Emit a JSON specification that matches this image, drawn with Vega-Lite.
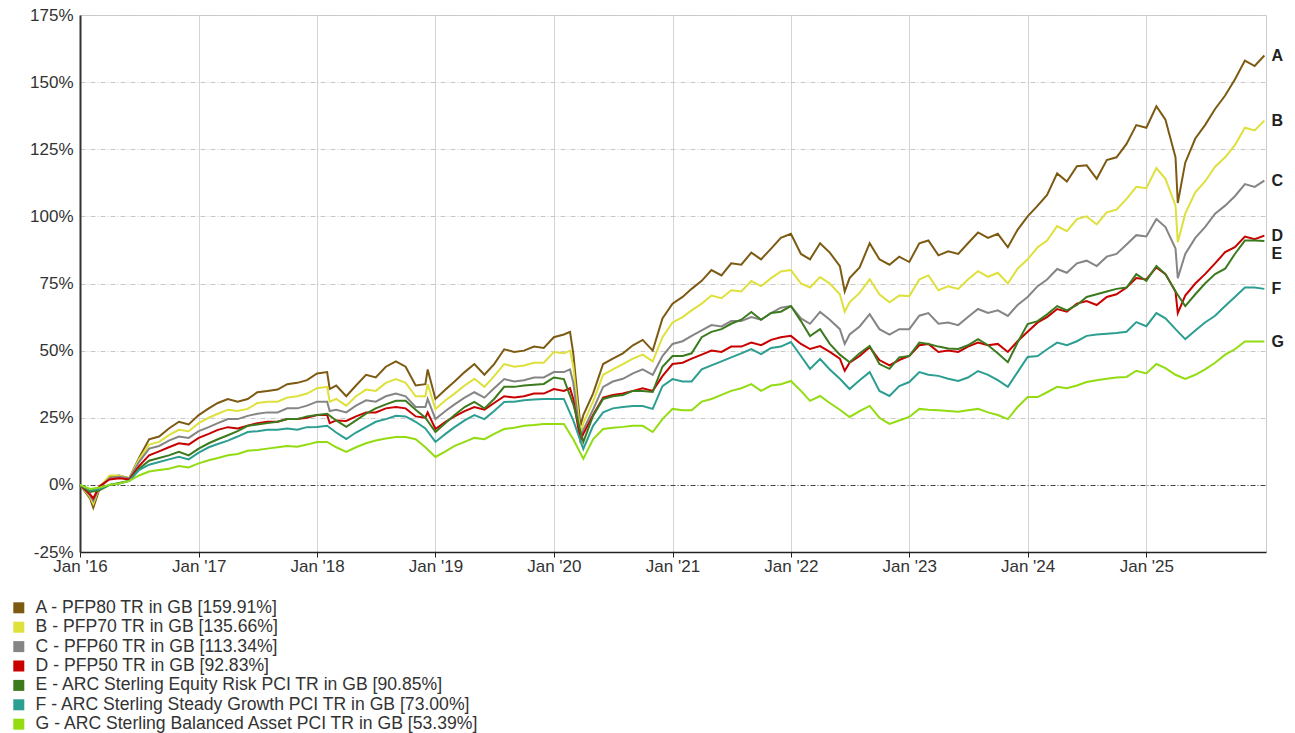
{
"$schema": "https://vega.github.io/schema/vega-lite/v6.json",
"width": 1186, "height": 537,
"autosize": "none",
"padding": {"left": 80, "top": 15, "right": 29, "bottom": 181},
"background": "white",
"config": {"view": {"stroke": "#cccccc", "strokeWidth": 1}, "font": "Liberation Sans"},
"data": {"values": [
{"d":"2016-01-01","s":"A","v":0},{"d":"2016-02-01","s":"A","v":-5},{"d":"2016-03-01","s":"A","v":-1.5},{"d":"2016-04-01","s":"A","v":3},{"d":"2016-05-01","s":"A","v":3.5},{"d":"2016-06-01","s":"A","v":2.5},{"d":"2016-07-01","s":"A","v":10},{"d":"2016-08-01","s":"A","v":17},{"d":"2016-09-01","s":"A","v":18},{"d":"2016-10-01","s":"A","v":21},{"d":"2016-11-01","s":"A","v":23.5},{"d":"2016-12-01","s":"A","v":22.5},
{"d":"2017-01-01","s":"A","v":26},{"d":"2017-02-01","s":"A","v":28.5},{"d":"2017-03-01","s":"A","v":30.5},{"d":"2017-04-01","s":"A","v":32},{"d":"2017-05-01","s":"A","v":31},{"d":"2017-06-01","s":"A","v":32},{"d":"2017-07-01","s":"A","v":34.5},{"d":"2017-08-01","s":"A","v":35},{"d":"2017-09-01","s":"A","v":35.5},{"d":"2017-10-01","s":"A","v":37.5},{"d":"2017-11-01","s":"A","v":38},{"d":"2017-12-01","s":"A","v":39},
{"d":"2018-01-01","s":"A","v":41.5},{"d":"2018-02-01","s":"A","v":42},{"d":"2018-03-01","s":"A","v":37},{"d":"2018-04-01","s":"A","v":33},{"d":"2018-05-01","s":"A","v":37},{"d":"2018-06-01","s":"A","v":41},{"d":"2018-07-01","s":"A","v":40},{"d":"2018-08-01","s":"A","v":44},{"d":"2018-09-01","s":"A","v":46},{"d":"2018-10-01","s":"A","v":44},{"d":"2018-11-01","s":"A","v":37},{"d":"2018-12-01","s":"A","v":37.5},
{"d":"2019-01-01","s":"A","v":32},{"d":"2019-02-01","s":"A","v":35.5},{"d":"2019-03-01","s":"A","v":38.5},{"d":"2019-04-01","s":"A","v":42},{"d":"2019-05-01","s":"A","v":45},{"d":"2019-06-01","s":"A","v":41},{"d":"2019-07-01","s":"A","v":45},{"d":"2019-08-01","s":"A","v":50.5},{"d":"2019-09-01","s":"A","v":49.5},{"d":"2019-10-01","s":"A","v":50},{"d":"2019-11-01","s":"A","v":51.5},{"d":"2019-12-01","s":"A","v":51},
{"d":"2020-01-01","s":"A","v":55},{"d":"2020-02-01","s":"A","v":56},{"d":"2020-03-01","s":"A","v":49},{"d":"2020-04-01","s":"A","v":26},{"d":"2020-05-01","s":"A","v":34},{"d":"2020-06-01","s":"A","v":45},{"d":"2020-07-01","s":"A","v":47},{"d":"2020-08-01","s":"A","v":49},{"d":"2020-09-01","s":"A","v":52},{"d":"2020-10-01","s":"A","v":54},{"d":"2020-11-01","s":"A","v":50},{"d":"2020-12-01","s":"A","v":62},
{"d":"2021-01-01","s":"A","v":67.5},{"d":"2021-02-01","s":"A","v":70},{"d":"2021-03-01","s":"A","v":73},{"d":"2021-04-01","s":"A","v":76},{"d":"2021-05-01","s":"A","v":80},{"d":"2021-06-01","s":"A","v":78},{"d":"2021-07-01","s":"A","v":82.5},{"d":"2021-08-01","s":"A","v":82},{"d":"2021-09-01","s":"A","v":86.5},{"d":"2021-10-01","s":"A","v":84},{"d":"2021-11-01","s":"A","v":88},{"d":"2021-12-01","s":"A","v":92},
{"d":"2022-01-01","s":"A","v":93.5},{"d":"2022-02-01","s":"A","v":86},{"d":"2022-03-01","s":"A","v":84},{"d":"2022-04-01","s":"A","v":90},{"d":"2022-05-01","s":"A","v":86.5},{"d":"2022-06-01","s":"A","v":81.5},{"d":"2022-07-01","s":"A","v":77},{"d":"2022-08-01","s":"A","v":81},{"d":"2022-09-01","s":"A","v":90},{"d":"2022-10-01","s":"A","v":84},{"d":"2022-11-01","s":"A","v":82},{"d":"2022-12-01","s":"A","v":85},
{"d":"2023-01-01","s":"A","v":83},{"d":"2023-02-01","s":"A","v":90},{"d":"2023-03-01","s":"A","v":91},{"d":"2023-04-01","s":"A","v":85.5},{"d":"2023-05-01","s":"A","v":87},{"d":"2023-06-01","s":"A","v":86},{"d":"2023-07-01","s":"A","v":90},{"d":"2023-08-01","s":"A","v":94},{"d":"2023-09-01","s":"A","v":92},{"d":"2023-10-01","s":"A","v":93.5},{"d":"2023-11-01","s":"A","v":88.5},{"d":"2023-12-01","s":"A","v":95},
{"d":"2024-01-01","s":"A","v":100},{"d":"2024-02-01","s":"A","v":104},{"d":"2024-03-01","s":"A","v":108},{"d":"2024-04-01","s":"A","v":116},{"d":"2024-05-01","s":"A","v":113},{"d":"2024-06-01","s":"A","v":118.7},{"d":"2024-07-01","s":"A","v":119},{"d":"2024-08-01","s":"A","v":114},{"d":"2024-09-01","s":"A","v":121},{"d":"2024-10-01","s":"A","v":122},{"d":"2024-11-01","s":"A","v":127},{"d":"2024-12-01","s":"A","v":134},
{"d":"2025-01-01","s":"A","v":133},{"d":"2025-02-01","s":"A","v":141},{"d":"2025-03-01","s":"A","v":136},{"d":"2025-04-01","s":"A","v":122},{"d":"2025-05-01","s":"A","v":120},{"d":"2025-06-01","s":"A","v":129},{"d":"2025-07-01","s":"A","v":134},{"d":"2025-08-01","s":"A","v":140},{"d":"2025-09-01","s":"A","v":145},{"d":"2025-10-01","s":"A","v":151},{"d":"2025-11-01","s":"A","v":158},{"d":"2025-12-01","s":"A","v":156},{"d":"2025-12-31","s":"A","v":159.91},
{"d":"2016-02-11","s":"A","v":-8.5},{"d":"2018-02-09","s":"A","v":35.7},{"d":"2018-12-08","s":"A","v":43},{"d":"2020-02-20","s":"A","v":57},{"d":"2020-03-23","s":"A","v":22},{"d":"2022-06-16","s":"A","v":72},{"d":"2025-04-08","s":"A","v":105},

{"d":"2016-01-01","s":"B","v":0},{"d":"2016-02-01","s":"B","v":-4.5},{"d":"2016-03-01","s":"B","v":-1},{"d":"2016-04-01","s":"B","v":3.5},{"d":"2016-05-01","s":"B","v":3.5},{"d":"2016-06-01","s":"B","v":2.5},{"d":"2016-07-01","s":"B","v":9.5},{"d":"2016-08-01","s":"B","v":15},{"d":"2016-09-01","s":"B","v":16},{"d":"2016-10-01","s":"B","v":18.5},{"d":"2016-11-01","s":"B","v":20.5},{"d":"2016-12-01","s":"B","v":20},
{"d":"2017-01-01","s":"B","v":23},{"d":"2017-02-01","s":"B","v":25},{"d":"2017-03-01","s":"B","v":26.5},{"d":"2017-04-01","s":"B","v":28},{"d":"2017-05-01","s":"B","v":27.5},{"d":"2017-06-01","s":"B","v":28.3},{"d":"2017-07-01","s":"B","v":30.5},{"d":"2017-08-01","s":"B","v":31},{"d":"2017-09-01","s":"B","v":31},{"d":"2017-10-01","s":"B","v":32.5},{"d":"2017-11-01","s":"B","v":33},{"d":"2017-12-01","s":"B","v":34},
{"d":"2018-01-01","s":"B","v":36},{"d":"2018-02-01","s":"B","v":36.5},{"d":"2018-03-01","s":"B","v":32},{"d":"2018-04-01","s":"B","v":29.5},{"d":"2018-05-01","s":"B","v":33},{"d":"2018-06-01","s":"B","v":35.5},{"d":"2018-07-01","s":"B","v":35},{"d":"2018-08-01","s":"B","v":38},{"d":"2018-09-01","s":"B","v":39.4},{"d":"2018-10-01","s":"B","v":38},{"d":"2018-11-01","s":"B","v":33},{"d":"2018-12-01","s":"B","v":33},
{"d":"2019-01-01","s":"B","v":28.3},{"d":"2019-02-01","s":"B","v":31.5},{"d":"2019-03-01","s":"B","v":34},{"d":"2019-04-01","s":"B","v":37},{"d":"2019-05-01","s":"B","v":39.5},{"d":"2019-06-01","s":"B","v":36.5},{"d":"2019-07-01","s":"B","v":40.5},{"d":"2019-08-01","s":"B","v":45},{"d":"2019-09-01","s":"B","v":44},{"d":"2019-10-01","s":"B","v":44.5},{"d":"2019-11-01","s":"B","v":45.5},{"d":"2019-12-01","s":"B","v":45.5},
{"d":"2020-01-01","s":"B","v":49.5},{"d":"2020-02-01","s":"B","v":49},{"d":"2020-03-01","s":"B","v":44},{"d":"2020-04-01","s":"B","v":23},{"d":"2020-05-01","s":"B","v":31},{"d":"2020-06-01","s":"B","v":41},{"d":"2020-07-01","s":"B","v":43},{"d":"2020-08-01","s":"B","v":45},{"d":"2020-09-01","s":"B","v":47},{"d":"2020-10-01","s":"B","v":48.5},{"d":"2020-11-01","s":"B","v":46},{"d":"2020-12-01","s":"B","v":55},
{"d":"2021-01-01","s":"B","v":60.5},{"d":"2021-02-01","s":"B","v":62.5},{"d":"2021-03-01","s":"B","v":65},{"d":"2021-04-01","s":"B","v":67.5},{"d":"2021-05-01","s":"B","v":70.5},{"d":"2021-06-01","s":"B","v":69.5},{"d":"2021-07-01","s":"B","v":72.5},{"d":"2021-08-01","s":"B","v":72},{"d":"2021-09-01","s":"B","v":75.9},{"d":"2021-10-01","s":"B","v":74},{"d":"2021-11-01","s":"B","v":77},{"d":"2021-12-01","s":"B","v":79.5},
{"d":"2022-01-01","s":"B","v":80},{"d":"2022-02-01","s":"B","v":75},{"d":"2022-03-01","s":"B","v":73.5},{"d":"2022-04-01","s":"B","v":77.4},{"d":"2022-05-01","s":"B","v":75},{"d":"2022-06-01","s":"B","v":71},{"d":"2022-07-01","s":"B","v":68},{"d":"2022-08-01","s":"B","v":71.5},{"d":"2022-09-01","s":"B","v":76.6},{"d":"2022-10-01","s":"B","v":71},{"d":"2022-11-01","s":"B","v":68},{"d":"2022-12-01","s":"B","v":70.5},
{"d":"2023-01-01","s":"B","v":70.3},{"d":"2023-02-01","s":"B","v":76.5},{"d":"2023-03-01","s":"B","v":78},{"d":"2023-04-01","s":"B","v":72.5},{"d":"2023-05-01","s":"B","v":74},{"d":"2023-06-01","s":"B","v":73},{"d":"2023-07-01","s":"B","v":76.5},{"d":"2023-08-01","s":"B","v":79.6},{"d":"2023-09-01","s":"B","v":77.5},{"d":"2023-10-01","s":"B","v":79},{"d":"2023-11-01","s":"B","v":75},{"d":"2023-12-01","s":"B","v":80.5},
{"d":"2024-01-01","s":"B","v":84},{"d":"2024-02-01","s":"B","v":88.5},{"d":"2024-03-01","s":"B","v":91},{"d":"2024-04-01","s":"B","v":96.4},{"d":"2024-05-01","s":"B","v":94.5},{"d":"2024-06-01","s":"B","v":99},{"d":"2024-07-01","s":"B","v":100},{"d":"2024-08-01","s":"B","v":97},{"d":"2024-09-01","s":"B","v":101.5},{"d":"2024-10-01","s":"B","v":102.5},{"d":"2024-11-01","s":"B","v":106.5},{"d":"2024-12-01","s":"B","v":111},
{"d":"2025-01-01","s":"B","v":110.5},{"d":"2025-02-01","s":"B","v":118},{"d":"2025-03-01","s":"B","v":114},{"d":"2025-04-01","s":"B","v":104},{"d":"2025-05-01","s":"B","v":101},{"d":"2025-06-01","s":"B","v":109},{"d":"2025-07-01","s":"B","v":113},{"d":"2025-08-01","s":"B","v":118.5},{"d":"2025-09-01","s":"B","v":122},{"d":"2025-10-01","s":"B","v":126.5},{"d":"2025-11-01","s":"B","v":133},{"d":"2025-12-01","s":"B","v":132},{"d":"2025-12-31","s":"B","v":135.66},
{"d":"2016-02-11","s":"B","v":-7},{"d":"2018-02-09","s":"B","v":31},{"d":"2018-12-08","s":"B","v":37.5},{"d":"2020-02-20","s":"B","v":50},{"d":"2020-03-23","s":"B","v":19},{"d":"2022-06-16","s":"B","v":64.5},{"d":"2025-04-08","s":"B","v":90.4},

{"d":"2016-01-01","s":"C","v":0},{"d":"2016-02-01","s":"C","v":-4},{"d":"2016-03-01","s":"C","v":-1},{"d":"2016-04-01","s":"C","v":2.5},{"d":"2016-05-01","s":"C","v":3},{"d":"2016-06-01","s":"C","v":2.5},{"d":"2016-07-01","s":"C","v":8.5},{"d":"2016-08-01","s":"C","v":13.5},{"d":"2016-09-01","s":"C","v":14.5},{"d":"2016-10-01","s":"C","v":16.5},{"d":"2016-11-01","s":"C","v":18},{"d":"2016-12-01","s":"C","v":17.5},
{"d":"2017-01-01","s":"C","v":20},{"d":"2017-02-01","s":"C","v":21.5},{"d":"2017-03-01","s":"C","v":23},{"d":"2017-04-01","s":"C","v":24.5},{"d":"2017-05-01","s":"C","v":24.5},{"d":"2017-06-01","s":"C","v":25.7},{"d":"2017-07-01","s":"C","v":26.5},{"d":"2017-08-01","s":"C","v":27},{"d":"2017-09-01","s":"C","v":27},{"d":"2017-10-01","s":"C","v":28.5},{"d":"2017-11-01","s":"C","v":28.5},{"d":"2017-12-01","s":"C","v":29.5},
{"d":"2018-01-01","s":"C","v":31},{"d":"2018-02-01","s":"C","v":31},{"d":"2018-03-01","s":"C","v":28},{"d":"2018-04-01","s":"C","v":27},{"d":"2018-05-01","s":"C","v":29.5},{"d":"2018-06-01","s":"C","v":31.5},{"d":"2018-07-01","s":"C","v":31},{"d":"2018-08-01","s":"C","v":33},{"d":"2018-09-01","s":"C","v":34},{"d":"2018-10-01","s":"C","v":33},{"d":"2018-11-01","s":"C","v":29},{"d":"2018-12-01","s":"C","v":29},
{"d":"2019-01-01","s":"C","v":24.5},{"d":"2019-02-01","s":"C","v":27.5},{"d":"2019-03-01","s":"C","v":30},{"d":"2019-04-01","s":"C","v":32.5},{"d":"2019-05-01","s":"C","v":34.5},{"d":"2019-06-01","s":"C","v":32.5},{"d":"2019-07-01","s":"C","v":36},{"d":"2019-08-01","s":"C","v":39.4},{"d":"2019-09-01","s":"C","v":38.5},{"d":"2019-10-01","s":"C","v":39},{"d":"2019-11-01","s":"C","v":40},{"d":"2019-12-01","s":"C","v":40},
{"d":"2020-01-01","s":"C","v":42},{"d":"2020-02-01","s":"C","v":42},{"d":"2020-03-01","s":"C","v":38},{"d":"2020-04-01","s":"C","v":20.5},{"d":"2020-05-01","s":"C","v":28},{"d":"2020-06-01","s":"C","v":36.5},{"d":"2020-07-01","s":"C","v":38.5},{"d":"2020-08-01","s":"C","v":39.5},{"d":"2020-09-01","s":"C","v":41.5},{"d":"2020-10-01","s":"C","v":43},{"d":"2020-11-01","s":"C","v":41},{"d":"2020-12-01","s":"C","v":48},
{"d":"2021-01-01","s":"C","v":52.5},{"d":"2021-02-01","s":"C","v":53.5},{"d":"2021-03-01","s":"C","v":55.5},{"d":"2021-04-01","s":"C","v":57.5},{"d":"2021-05-01","s":"C","v":59.5},{"d":"2021-06-01","s":"C","v":59},{"d":"2021-07-01","s":"C","v":61},{"d":"2021-08-01","s":"C","v":61},{"d":"2021-09-01","s":"C","v":62.5},{"d":"2021-10-01","s":"C","v":61.5},{"d":"2021-11-01","s":"C","v":64},{"d":"2021-12-01","s":"C","v":66},
{"d":"2022-01-01","s":"C","v":66.6},{"d":"2022-02-01","s":"C","v":62},{"d":"2022-03-01","s":"C","v":60},{"d":"2022-04-01","s":"C","v":64.4},{"d":"2022-05-01","s":"C","v":61.5},{"d":"2022-06-01","s":"C","v":58},{"d":"2022-07-01","s":"C","v":56},{"d":"2022-08-01","s":"C","v":59},{"d":"2022-09-01","s":"C","v":63.6},{"d":"2022-10-01","s":"C","v":58},{"d":"2022-11-01","s":"C","v":56},{"d":"2022-12-01","s":"C","v":58},
{"d":"2023-01-01","s":"C","v":58},{"d":"2023-02-01","s":"C","v":63},{"d":"2023-03-01","s":"C","v":64},{"d":"2023-04-01","s":"C","v":60},{"d":"2023-05-01","s":"C","v":60.5},{"d":"2023-06-01","s":"C","v":59.5},{"d":"2023-07-01","s":"C","v":62.5},{"d":"2023-08-01","s":"C","v":65.5},{"d":"2023-09-01","s":"C","v":64},{"d":"2023-10-01","s":"C","v":65},{"d":"2023-11-01","s":"C","v":62.9},{"d":"2023-12-01","s":"C","v":67},
{"d":"2024-01-01","s":"C","v":70},{"d":"2024-02-01","s":"C","v":74},{"d":"2024-03-01","s":"C","v":76.5},{"d":"2024-04-01","s":"C","v":80.4},{"d":"2024-05-01","s":"C","v":79},{"d":"2024-06-01","s":"C","v":82.5},{"d":"2024-07-01","s":"C","v":83.5},{"d":"2024-08-01","s":"C","v":81.5},{"d":"2024-09-01","s":"C","v":85},{"d":"2024-10-01","s":"C","v":86},{"d":"2024-11-01","s":"C","v":89.5},{"d":"2024-12-01","s":"C","v":93},
{"d":"2025-01-01","s":"C","v":92.5},{"d":"2025-02-01","s":"C","v":99},{"d":"2025-03-01","s":"C","v":96},{"d":"2025-04-01","s":"C","v":88},{"d":"2025-05-01","s":"C","v":86},{"d":"2025-06-01","s":"C","v":92},{"d":"2025-07-01","s":"C","v":96},{"d":"2025-08-01","s":"C","v":101},{"d":"2025-09-01","s":"C","v":104},{"d":"2025-10-01","s":"C","v":107.5},{"d":"2025-11-01","s":"C","v":112},{"d":"2025-12-01","s":"C","v":111},{"d":"2025-12-31","s":"C","v":113.34},
{"d":"2016-02-11","s":"C","v":-6},{"d":"2018-02-09","s":"C","v":27.5},{"d":"2018-12-08","s":"C","v":32},{"d":"2020-02-20","s":"C","v":43},{"d":"2020-03-23","s":"C","v":17.5},{"d":"2022-06-16","s":"C","v":52.5},{"d":"2025-04-08","s":"C","v":77},

{"d":"2016-01-01","s":"D","v":0},{"d":"2016-02-01","s":"D","v":-3.5},{"d":"2016-03-01","s":"D","v":-0.5},{"d":"2016-04-01","s":"D","v":2},{"d":"2016-05-01","s":"D","v":2.5},{"d":"2016-06-01","s":"D","v":2},{"d":"2016-07-01","s":"D","v":7},{"d":"2016-08-01","s":"D","v":11},{"d":"2016-09-01","s":"D","v":12.5},{"d":"2016-10-01","s":"D","v":14},{"d":"2016-11-01","s":"D","v":15.5},{"d":"2016-12-01","s":"D","v":15},
{"d":"2017-01-01","s":"D","v":17.5},{"d":"2017-02-01","s":"D","v":19},{"d":"2017-03-01","s":"D","v":20.5},{"d":"2017-04-01","s":"D","v":21.5},{"d":"2017-05-01","s":"D","v":21},{"d":"2017-06-01","s":"D","v":22},{"d":"2017-07-01","s":"D","v":23},{"d":"2017-08-01","s":"D","v":23.5},{"d":"2017-09-01","s":"D","v":23.5},{"d":"2017-10-01","s":"D","v":24.5},{"d":"2017-11-01","s":"D","v":24.5},{"d":"2017-12-01","s":"D","v":25},
{"d":"2018-01-01","s":"D","v":26},{"d":"2018-02-01","s":"D","v":26},{"d":"2018-03-01","s":"D","v":24},{"d":"2018-04-01","s":"D","v":23.8},{"d":"2018-05-01","s":"D","v":25.5},{"d":"2018-06-01","s":"D","v":27},{"d":"2018-07-01","s":"D","v":27},{"d":"2018-08-01","s":"D","v":28.5},{"d":"2018-09-01","s":"D","v":29},{"d":"2018-10-01","s":"D","v":28.5},{"d":"2018-11-01","s":"D","v":25.5},{"d":"2018-12-01","s":"D","v":25},
{"d":"2019-01-01","s":"D","v":20.8},{"d":"2019-02-01","s":"D","v":23.5},{"d":"2019-03-01","s":"D","v":25.5},{"d":"2019-04-01","s":"D","v":27.5},{"d":"2019-05-01","s":"D","v":29},{"d":"2019-06-01","s":"D","v":28},{"d":"2019-07-01","s":"D","v":30.5},{"d":"2019-08-01","s":"D","v":33},{"d":"2019-09-01","s":"D","v":32.5},{"d":"2019-10-01","s":"D","v":33},{"d":"2019-11-01","s":"D","v":34},{"d":"2019-12-01","s":"D","v":34},
{"d":"2020-01-01","s":"D","v":35.7},{"d":"2020-02-01","s":"D","v":35},{"d":"2020-03-01","s":"D","v":32},{"d":"2020-04-01","s":"D","v":19},{"d":"2020-05-01","s":"D","v":26},{"d":"2020-06-01","s":"D","v":32.5},{"d":"2020-07-01","s":"D","v":33.5},{"d":"2020-08-01","s":"D","v":34},{"d":"2020-09-01","s":"D","v":35},{"d":"2020-10-01","s":"D","v":36},{"d":"2020-11-01","s":"D","v":35},{"d":"2020-12-01","s":"D","v":40.5},
{"d":"2021-01-01","s":"D","v":45},{"d":"2021-02-01","s":"D","v":45.5},{"d":"2021-03-01","s":"D","v":47},{"d":"2021-04-01","s":"D","v":48.5},{"d":"2021-05-01","s":"D","v":50},{"d":"2021-06-01","s":"D","v":49.5},{"d":"2021-07-01","s":"D","v":51.5},{"d":"2021-08-01","s":"D","v":51.5},{"d":"2021-09-01","s":"D","v":53},{"d":"2021-10-01","s":"D","v":52},{"d":"2021-11-01","s":"D","v":54},{"d":"2021-12-01","s":"D","v":55},
{"d":"2022-01-01","s":"D","v":55.5},{"d":"2022-02-01","s":"D","v":52.5},{"d":"2022-03-01","s":"D","v":50.6},{"d":"2022-04-01","s":"D","v":51.7},{"d":"2022-05-01","s":"D","v":49.5},{"d":"2022-06-01","s":"D","v":47},{"d":"2022-07-01","s":"D","v":45.5},{"d":"2022-08-01","s":"D","v":48},{"d":"2022-09-01","s":"D","v":51.3},{"d":"2022-10-01","s":"D","v":46.5},{"d":"2022-11-01","s":"D","v":44.5},{"d":"2022-12-01","s":"D","v":46.5},
{"d":"2023-01-01","s":"D","v":48},{"d":"2023-02-01","s":"D","v":52},{"d":"2023-03-01","s":"D","v":52.5},{"d":"2023-04-01","s":"D","v":49.5},{"d":"2023-05-01","s":"D","v":50},{"d":"2023-06-01","s":"D","v":49.5},{"d":"2023-07-01","s":"D","v":51.5},{"d":"2023-08-01","s":"D","v":53},{"d":"2023-09-01","s":"D","v":52},{"d":"2023-10-01","s":"D","v":52.5},{"d":"2023-11-01","s":"D","v":49.5},{"d":"2023-12-01","s":"D","v":53.5},
{"d":"2024-01-01","s":"D","v":57},{"d":"2024-02-01","s":"D","v":60.5},{"d":"2024-03-01","s":"D","v":62.5},{"d":"2024-04-01","s":"D","v":65.5},{"d":"2024-05-01","s":"D","v":64.5},{"d":"2024-06-01","s":"D","v":67.5},{"d":"2024-07-01","s":"D","v":68.5},{"d":"2024-08-01","s":"D","v":67},{"d":"2024-09-01","s":"D","v":70},{"d":"2024-10-01","s":"D","v":71},{"d":"2024-11-01","s":"D","v":73.5},{"d":"2024-12-01","s":"D","v":77},
{"d":"2025-01-01","s":"D","v":76.5},{"d":"2025-02-01","s":"D","v":81},{"d":"2025-03-01","s":"D","v":78.5},{"d":"2025-04-01","s":"D","v":72},{"d":"2025-05-01","s":"D","v":70.5},{"d":"2025-06-01","s":"D","v":75},{"d":"2025-07-01","s":"D","v":78.5},{"d":"2025-08-01","s":"D","v":82.5},{"d":"2025-09-01","s":"D","v":86.7},{"d":"2025-10-01","s":"D","v":88.5},{"d":"2025-11-01","s":"D","v":92.5},{"d":"2025-12-01","s":"D","v":91.5},{"d":"2025-12-31","s":"D","v":92.83},
{"d":"2016-02-11","s":"D","v":-5},{"d":"2018-02-09","s":"D","v":23},{"d":"2018-12-08","s":"D","v":27},{"d":"2020-02-20","s":"D","v":36},{"d":"2020-03-23","s":"D","v":16.5},{"d":"2022-06-16","s":"D","v":42.5},{"d":"2025-04-08","s":"D","v":64},

{"d":"2016-01-01","s":"E","v":0},{"d":"2016-02-01","s":"E","v":-2.6},{"d":"2016-03-01","s":"E","v":-2},{"d":"2016-04-01","s":"E","v":0},{"d":"2016-05-01","s":"E","v":0.7},{"d":"2016-06-01","s":"E","v":1.5},{"d":"2016-07-01","s":"E","v":6},{"d":"2016-08-01","s":"E","v":9},{"d":"2016-09-01","s":"E","v":10},{"d":"2016-10-01","s":"E","v":11},{"d":"2016-11-01","s":"E","v":12.3},{"d":"2016-12-01","s":"E","v":11},
{"d":"2017-01-01","s":"E","v":13.5},{"d":"2017-02-01","s":"E","v":15.5},{"d":"2017-03-01","s":"E","v":17},{"d":"2017-04-01","s":"E","v":18.5},{"d":"2017-05-01","s":"E","v":20},{"d":"2017-06-01","s":"E","v":22},{"d":"2017-07-01","s":"E","v":22.5},{"d":"2017-08-01","s":"E","v":23},{"d":"2017-09-01","s":"E","v":23.5},{"d":"2017-10-01","s":"E","v":24.5},{"d":"2017-11-01","s":"E","v":24.5},{"d":"2017-12-01","s":"E","v":25.5},
{"d":"2018-01-01","s":"E","v":26},{"d":"2018-02-01","s":"E","v":26.5},{"d":"2018-03-01","s":"E","v":24},{"d":"2018-04-01","s":"E","v":21.6},{"d":"2018-05-01","s":"E","v":24},{"d":"2018-06-01","s":"E","v":26.5},{"d":"2018-07-01","s":"E","v":28.5},{"d":"2018-08-01","s":"E","v":30},{"d":"2018-09-01","s":"E","v":31.3},{"d":"2018-10-01","s":"E","v":31.3},{"d":"2018-11-01","s":"E","v":28},{"d":"2018-12-01","s":"E","v":25},
{"d":"2019-01-01","s":"E","v":19.7},{"d":"2019-02-01","s":"E","v":23},{"d":"2019-03-01","s":"E","v":26},{"d":"2019-04-01","s":"E","v":29},{"d":"2019-05-01","s":"E","v":30.9},{"d":"2019-06-01","s":"E","v":28.5},{"d":"2019-07-01","s":"E","v":32},{"d":"2019-08-01","s":"E","v":36.5},{"d":"2019-09-01","s":"E","v":36.5},{"d":"2019-10-01","s":"E","v":37},{"d":"2019-11-01","s":"E","v":37.3},{"d":"2019-12-01","s":"E","v":37.6},
{"d":"2020-01-01","s":"E","v":40},{"d":"2020-02-01","s":"E","v":39.4},{"d":"2020-03-01","s":"E","v":30},{"d":"2020-04-01","s":"E","v":16},{"d":"2020-05-01","s":"E","v":25.7},{"d":"2020-06-01","s":"E","v":32},{"d":"2020-07-01","s":"E","v":33},{"d":"2020-08-01","s":"E","v":33.5},{"d":"2020-09-01","s":"E","v":35},{"d":"2020-10-01","s":"E","v":35},{"d":"2020-11-01","s":"E","v":34.6},{"d":"2020-12-01","s":"E","v":44},
{"d":"2021-01-01","s":"E","v":48},{"d":"2021-02-01","s":"E","v":48},{"d":"2021-03-01","s":"E","v":49},{"d":"2021-04-01","s":"E","v":55},{"d":"2021-05-01","s":"E","v":57},{"d":"2021-06-01","s":"E","v":58},{"d":"2021-07-01","s":"E","v":60},{"d":"2021-08-01","s":"E","v":61.5},{"d":"2021-09-01","s":"E","v":64.4},{"d":"2021-10-01","s":"E","v":61.5},{"d":"2021-11-01","s":"E","v":64},{"d":"2021-12-01","s":"E","v":64.5},
{"d":"2022-01-01","s":"E","v":66.6},{"d":"2022-02-01","s":"E","v":61},{"d":"2022-03-01","s":"E","v":55.4},{"d":"2022-04-01","s":"E","v":58},{"d":"2022-05-01","s":"E","v":52.5},{"d":"2022-06-01","s":"E","v":48.5},{"d":"2022-07-01","s":"E","v":45.7},{"d":"2022-08-01","s":"E","v":49},{"d":"2022-09-01","s":"E","v":51.7},{"d":"2022-10-01","s":"E","v":45},{"d":"2022-11-01","s":"E","v":43.2},{"d":"2022-12-01","s":"E","v":47.5},
{"d":"2023-01-01","s":"E","v":48},{"d":"2023-02-01","s":"E","v":53},{"d":"2023-03-01","s":"E","v":52.5},{"d":"2023-04-01","s":"E","v":51.5},{"d":"2023-05-01","s":"E","v":50.8},{"d":"2023-06-01","s":"E","v":50.6},{"d":"2023-07-01","s":"E","v":52},{"d":"2023-08-01","s":"E","v":54.3},{"d":"2023-09-01","s":"E","v":52},{"d":"2023-10-01","s":"E","v":49},{"d":"2023-11-01","s":"E","v":45.7},{"d":"2023-12-01","s":"E","v":53},
{"d":"2024-01-01","s":"E","v":59.9},{"d":"2024-02-01","s":"E","v":61},{"d":"2024-03-01","s":"E","v":63.5},{"d":"2024-04-01","s":"E","v":66.6},{"d":"2024-05-01","s":"E","v":65},{"d":"2024-06-01","s":"E","v":67},{"d":"2024-07-01","s":"E","v":70},{"d":"2024-08-01","s":"E","v":71},{"d":"2024-09-01","s":"E","v":72},{"d":"2024-10-01","s":"E","v":73},{"d":"2024-11-01","s":"E","v":73.5},{"d":"2024-12-01","s":"E","v":78.5},
{"d":"2025-01-01","s":"E","v":76},{"d":"2025-02-01","s":"E","v":81.5},{"d":"2025-03-01","s":"E","v":78.5},{"d":"2025-04-01","s":"E","v":72},{"d":"2025-05-01","s":"E","v":66.6},{"d":"2025-06-01","s":"E","v":71},{"d":"2025-07-01","s":"E","v":75},{"d":"2025-08-01","s":"E","v":78.5},{"d":"2025-09-01","s":"E","v":80.5},{"d":"2025-10-01","s":"E","v":86},{"d":"2025-11-01","s":"E","v":91},{"d":"2025-12-01","s":"E","v":91},{"d":"2025-12-31","s":"E","v":90.85},

{"d":"2016-01-01","s":"F","v":0},{"d":"2016-02-01","s":"F","v":-2},{"d":"2016-03-01","s":"F","v":-1.5},{"d":"2016-04-01","s":"F","v":0},{"d":"2016-05-01","s":"F","v":0.5},{"d":"2016-06-01","s":"F","v":1.5},{"d":"2016-07-01","s":"F","v":5.5},{"d":"2016-08-01","s":"F","v":7.5},{"d":"2016-09-01","s":"F","v":8.5},{"d":"2016-10-01","s":"F","v":9.5},{"d":"2016-11-01","s":"F","v":10.5},{"d":"2016-12-01","s":"F","v":9.5},
{"d":"2017-01-01","s":"F","v":12},{"d":"2017-02-01","s":"F","v":14},{"d":"2017-03-01","s":"F","v":15.2},{"d":"2017-04-01","s":"F","v":16.5},{"d":"2017-05-01","s":"F","v":18},{"d":"2017-06-01","s":"F","v":19.7},{"d":"2017-07-01","s":"F","v":20},{"d":"2017-08-01","s":"F","v":20.5},{"d":"2017-09-01","s":"F","v":20.5},{"d":"2017-10-01","s":"F","v":21},{"d":"2017-11-01","s":"F","v":20.5},{"d":"2017-12-01","s":"F","v":21.5},
{"d":"2018-01-01","s":"F","v":21.6},{"d":"2018-02-01","s":"F","v":22},{"d":"2018-03-01","s":"F","v":19.5},{"d":"2018-04-01","s":"F","v":17.1},{"d":"2018-05-01","s":"F","v":19.5},{"d":"2018-06-01","s":"F","v":21.5},{"d":"2018-07-01","s":"F","v":23.5},{"d":"2018-08-01","s":"F","v":24.5},{"d":"2018-09-01","s":"F","v":25.7},{"d":"2018-10-01","s":"F","v":25.5},{"d":"2018-11-01","s":"F","v":23.5},{"d":"2018-12-01","s":"F","v":21},
{"d":"2019-01-01","s":"F","v":16},{"d":"2019-02-01","s":"F","v":19},{"d":"2019-03-01","s":"F","v":21.5},{"d":"2019-04-01","s":"F","v":24},{"d":"2019-05-01","s":"F","v":26},{"d":"2019-06-01","s":"F","v":24.5},{"d":"2019-07-01","s":"F","v":27.5},{"d":"2019-08-01","s":"F","v":30.9},{"d":"2019-09-01","s":"F","v":31},{"d":"2019-10-01","s":"F","v":31.5},{"d":"2019-11-01","s":"F","v":31.8},{"d":"2019-12-01","s":"F","v":32},
{"d":"2020-01-01","s":"F","v":32},{"d":"2020-02-01","s":"F","v":32},{"d":"2020-03-01","s":"F","v":24},{"d":"2020-04-01","s":"F","v":13.4},{"d":"2020-05-01","s":"F","v":22},{"d":"2020-06-01","s":"F","v":27},{"d":"2020-07-01","s":"F","v":28.5},{"d":"2020-08-01","s":"F","v":29},{"d":"2020-09-01","s":"F","v":29.4},{"d":"2020-10-01","s":"F","v":29.4},{"d":"2020-11-01","s":"F","v":28.3},{"d":"2020-12-01","s":"F","v":36.8},
{"d":"2021-01-01","s":"F","v":39.4},{"d":"2021-02-01","s":"F","v":38.5},{"d":"2021-03-01","s":"F","v":38.5},{"d":"2021-04-01","s":"F","v":43},{"d":"2021-05-01","s":"F","v":44.5},{"d":"2021-06-01","s":"F","v":46},{"d":"2021-07-01","s":"F","v":47.5},{"d":"2021-08-01","s":"F","v":49},{"d":"2021-09-01","s":"F","v":50.6},{"d":"2021-10-01","s":"F","v":48.7},{"d":"2021-11-01","s":"F","v":51},{"d":"2021-12-01","s":"F","v":51.5},
{"d":"2022-01-01","s":"F","v":53.2},{"d":"2022-02-01","s":"F","v":48},{"d":"2022-03-01","s":"F","v":43.2},{"d":"2022-04-01","s":"F","v":46.9},{"d":"2022-05-01","s":"F","v":43},{"d":"2022-06-01","s":"F","v":39.5},{"d":"2022-07-01","s":"F","v":35.7},{"d":"2022-08-01","s":"F","v":39},{"d":"2022-09-01","s":"F","v":42},{"d":"2022-10-01","s":"F","v":35},{"d":"2022-11-01","s":"F","v":33.1},{"d":"2022-12-01","s":"F","v":36.8},
{"d":"2023-01-01","s":"F","v":38.3},{"d":"2023-02-01","s":"F","v":42},{"d":"2023-03-01","s":"F","v":41},{"d":"2023-04-01","s":"F","v":40.6},{"d":"2023-05-01","s":"F","v":39.5},{"d":"2023-06-01","s":"F","v":38.7},{"d":"2023-07-01","s":"F","v":40},{"d":"2023-08-01","s":"F","v":42.4},{"d":"2023-09-01","s":"F","v":41},{"d":"2023-10-01","s":"F","v":39},{"d":"2023-11-01","s":"F","v":36.5},{"d":"2023-12-01","s":"F","v":42},
{"d":"2024-01-01","s":"F","v":47.6},{"d":"2024-02-01","s":"F","v":48},{"d":"2024-03-01","s":"F","v":50.5},{"d":"2024-04-01","s":"F","v":53},{"d":"2024-05-01","s":"F","v":52},{"d":"2024-06-01","s":"F","v":53.5},{"d":"2024-07-01","s":"F","v":55.5},{"d":"2024-08-01","s":"F","v":56},{"d":"2024-09-01","s":"F","v":56.3},{"d":"2024-10-01","s":"F","v":56.6},{"d":"2024-11-01","s":"F","v":57},{"d":"2024-12-01","s":"F","v":60.6},
{"d":"2025-01-01","s":"F","v":59.1},{"d":"2025-02-01","s":"F","v":64},{"d":"2025-03-01","s":"F","v":62},{"d":"2025-04-01","s":"F","v":58},{"d":"2025-05-01","s":"F","v":54.3},{"d":"2025-06-01","s":"F","v":57.5},{"d":"2025-07-01","s":"F","v":60.5},{"d":"2025-08-01","s":"F","v":63},{"d":"2025-09-01","s":"F","v":66.6},{"d":"2025-10-01","s":"F","v":70},{"d":"2025-11-01","s":"F","v":73.5},{"d":"2025-12-01","s":"F","v":73.5},{"d":"2025-12-31","s":"F","v":73},

{"d":"2016-01-01","s":"G","v":0},{"d":"2016-02-01","s":"G","v":-1.5},{"d":"2016-03-01","s":"G","v":-1},{"d":"2016-04-01","s":"G","v":0},{"d":"2016-05-01","s":"G","v":0.5},{"d":"2016-06-01","s":"G","v":1.5},{"d":"2016-07-01","s":"G","v":3.5},{"d":"2016-08-01","s":"G","v":5},{"d":"2016-09-01","s":"G","v":5.5},{"d":"2016-10-01","s":"G","v":6},{"d":"2016-11-01","s":"G","v":7},{"d":"2016-12-01","s":"G","v":6.5},
{"d":"2017-01-01","s":"G","v":8},{"d":"2017-02-01","s":"G","v":9.2},{"d":"2017-03-01","s":"G","v":10},{"d":"2017-04-01","s":"G","v":11},{"d":"2017-05-01","s":"G","v":11.5},{"d":"2017-06-01","s":"G","v":12.7},{"d":"2017-07-01","s":"G","v":13},{"d":"2017-08-01","s":"G","v":13.5},{"d":"2017-09-01","s":"G","v":14},{"d":"2017-10-01","s":"G","v":14.5},{"d":"2017-11-01","s":"G","v":14.2},{"d":"2017-12-01","s":"G","v":15},
{"d":"2018-01-01","s":"G","v":16},{"d":"2018-02-01","s":"G","v":16},{"d":"2018-03-01","s":"G","v":14},{"d":"2018-04-01","s":"G","v":12.3},{"d":"2018-05-01","s":"G","v":14},{"d":"2018-06-01","s":"G","v":15.5},{"d":"2018-07-01","s":"G","v":16.5},{"d":"2018-08-01","s":"G","v":17.3},{"d":"2018-09-01","s":"G","v":17.8},{"d":"2018-10-01","s":"G","v":17.8},{"d":"2018-11-01","s":"G","v":17},{"d":"2018-12-01","s":"G","v":14},
{"d":"2019-01-01","s":"G","v":10.4},{"d":"2019-02-01","s":"G","v":12.5},{"d":"2019-03-01","s":"G","v":14.5},{"d":"2019-04-01","s":"G","v":16},{"d":"2019-05-01","s":"G","v":17.5},{"d":"2019-06-01","s":"G","v":17},{"d":"2019-07-01","s":"G","v":19},{"d":"2019-08-01","s":"G","v":20.8},{"d":"2019-09-01","s":"G","v":21.3},{"d":"2019-10-01","s":"G","v":22},{"d":"2019-11-01","s":"G","v":22.3},{"d":"2019-12-01","s":"G","v":22.7},
{"d":"2020-01-01","s":"G","v":22.7},{"d":"2020-02-01","s":"G","v":22.7},{"d":"2020-03-01","s":"G","v":17},{"d":"2020-04-01","s":"G","v":9.7},{"d":"2020-05-01","s":"G","v":17},{"d":"2020-06-01","s":"G","v":20.8},{"d":"2020-07-01","s":"G","v":21.3},{"d":"2020-08-01","s":"G","v":21.6},{"d":"2020-09-01","s":"G","v":22},{"d":"2020-10-01","s":"G","v":22},{"d":"2020-11-01","s":"G","v":19.7},{"d":"2020-12-01","s":"G","v":24.5},
{"d":"2021-01-01","s":"G","v":28.3},{"d":"2021-02-01","s":"G","v":27.8},{"d":"2021-03-01","s":"G","v":27.8},{"d":"2021-04-01","s":"G","v":31},{"d":"2021-05-01","s":"G","v":32},{"d":"2021-06-01","s":"G","v":33.5},{"d":"2021-07-01","s":"G","v":35},{"d":"2021-08-01","s":"G","v":36},{"d":"2021-09-01","s":"G","v":37.5},{"d":"2021-10-01","s":"G","v":35},{"d":"2021-11-01","s":"G","v":37},{"d":"2021-12-01","s":"G","v":37.5},
{"d":"2022-01-01","s":"G","v":38.7},{"d":"2022-02-01","s":"G","v":35},{"d":"2022-03-01","s":"G","v":31.3},{"d":"2022-04-01","s":"G","v":33.1},{"d":"2022-05-01","s":"G","v":30.5},{"d":"2022-06-01","s":"G","v":28},{"d":"2022-07-01","s":"G","v":25.3},{"d":"2022-08-01","s":"G","v":27.5},{"d":"2022-09-01","s":"G","v":29.4},{"d":"2022-10-01","s":"G","v":25},{"d":"2022-11-01","s":"G","v":22.7},{"d":"2022-12-01","s":"G","v":24},
{"d":"2023-01-01","s":"G","v":25.3},{"d":"2023-02-01","s":"G","v":28.3},{"d":"2023-03-01","s":"G","v":28},{"d":"2023-04-01","s":"G","v":27.8},{"d":"2023-05-01","s":"G","v":27.5},{"d":"2023-06-01","s":"G","v":27.2},{"d":"2023-07-01","s":"G","v":27.8},{"d":"2023-08-01","s":"G","v":28.3},{"d":"2023-09-01","s":"G","v":27},{"d":"2023-10-01","s":"G","v":26},{"d":"2023-11-01","s":"G","v":24.5},{"d":"2023-12-01","s":"G","v":29},
{"d":"2024-01-01","s":"G","v":32.7},{"d":"2024-02-01","s":"G","v":32.7},{"d":"2024-03-01","s":"G","v":34.5},{"d":"2024-04-01","s":"G","v":36.5},{"d":"2024-05-01","s":"G","v":36},{"d":"2024-06-01","s":"G","v":37},{"d":"2024-07-01","s":"G","v":38.3},{"d":"2024-08-01","s":"G","v":39},{"d":"2024-09-01","s":"G","v":39.5},{"d":"2024-10-01","s":"G","v":40},{"d":"2024-11-01","s":"G","v":40.2},{"d":"2024-12-01","s":"G","v":42.5},
{"d":"2025-01-01","s":"G","v":41.5},{"d":"2025-02-01","s":"G","v":45},{"d":"2025-03-01","s":"G","v":43.5},{"d":"2025-04-01","s":"G","v":41},{"d":"2025-05-01","s":"G","v":39.5},{"d":"2025-06-01","s":"G","v":41},{"d":"2025-07-01","s":"G","v":43},{"d":"2025-08-01","s":"G","v":45.5},{"d":"2025-09-01","s":"G","v":48.5},{"d":"2025-10-01","s":"G","v":50.5},{"d":"2025-11-01","s":"G","v":53.4},{"d":"2025-12-01","s":"G","v":53.4},{"d":"2025-12-31","s":"G","v":53.39}
]},
"encoding": {
  "x": {"field": "d", "type": "temporal",
    "scale": {"type": "utc", "domain": [{"year": 2016, "month": 1, "date": 1, "utc": true}, {"year": 2026, "month": 1, "date": 5, "utc": true}]},
    "axis": {"title": null,
      "values": [{"year": 2016, "month": 1, "date": 1, "utc": true}, {"year": 2017, "month": 1, "date": 1, "utc": true}, {"year": 2018, "month": 1, "date": 1, "utc": true}, {"year": 2019, "month": 1, "date": 1, "utc": true}, {"year": 2020, "month": 1, "date": 1, "utc": true}, {"year": 2021, "month": 1, "date": 1, "utc": true}, {"year": 2022, "month": 1, "date": 1, "utc": true}, {"year": 2023, "month": 1, "date": 1, "utc": true}, {"year": 2024, "month": 1, "date": 1, "utc": true}, {"year": 2025, "month": 1, "date": 1, "utc": true}],
      "labelExpr": "\"Jan '\" + utcFormat(datum.value, '%y')",
      "grid": true, "gridColor": "#d4d4d4", "gridWidth": 1,
      "domainColor": "#222222", "domainWidth": 1.5, "tickColor": "#222222", "tickSize": 5,
      "labelFontSize": 17, "labelColor": "#333333", "labelPadding": 1, "labelFlush": false}},
  "y": {"field": "v", "type": "quantitative",
    "scale": {"domain": [-25, 175], "nice": false, "zero": false},
    "axis": {"title": null, "values": [-25, 0, 25, 50, 75, 100, 125, 150, 175],
      "labelExpr": "datum.value + '%'",
      "grid": true, "gridDash": [5, 2, 1, 2],
      "gridColor": {"condition": {"test": "datum.value === 0", "value": "#444444"}, "value": "#c8c8c8"},
      "domainColor": "#333333", "domainWidth": 2, "ticks": false,
      "labelFontSize": 17, "labelColor": "#333333", "labelPadding": 7}}
},
"layer": [
  {"mark": {"type": "line", "strokeWidth": 2},
   "encoding": {"color": {"field": "s", "type": "nominal",
     "scale": {"domain": ["A", "B", "C", "D", "E", "F", "G"], "range": ["#7D5A12", "#DEE03C", "#858585", "#C80000", "#3C7A1E", "#2C9E92", "#93DC12"]},
     "legend": {"orient": "none", "legendX": -70, "legendY": 584, "title": null, "padding": 0,
       "symbolType": "square", "symbolSize": 121, "symbolStrokeWidth": 0,
       "labelFontSize": 17.6, "labelColor": "#333333", "labelOffset": 8, "rowPadding": 0.4, "labelLimit": 700,
       "labelExpr": "datum.label == 'A' ? 'A - PFP80 TR in GB [159.91%]' : datum.label == 'B' ? 'B - PFP70 TR in GB [135.66%]' : datum.label == 'C' ? 'C - PFP60 TR in GB [113.34%]' : datum.label == 'D' ? 'D - PFP50 TR in GB [92.83%]' : datum.label == 'E' ? 'E - ARC Sterling Equity Risk PCI TR in GB [90.85%]' : datum.label == 'F' ? 'F - ARC Sterling Steady Growth PCI TR in GB [73.00%]' : 'G - ARC Sterling Balanced Asset PCI TR in GB [53.39%]'",
       "encode": {"symbols": {"update": {"fill": {"scale": "color", "field": "value"}, "fillOpacity": {"value": 1}}}}}}}},
  {"transform": [{"filter": "utcyear(datum.d) == 2025 && utcmonth(datum.d) == 11 && utcdate(datum.d) == 31 && datum.s != 'E'"}],
   "mark": {"type": "text", "align": "left", "baseline": "middle", "dx": 7, "fontSize": 16, "fontWeight": "bold", "color": "#222222"},
   "encoding": {"text": {"field": "s"}}},
  {"transform": [{"filter": "utcyear(datum.d) == 2025 && utcmonth(datum.d) == 11 && utcdate(datum.d) == 31 && datum.s == 'E'"}],
   "mark": {"type": "text", "align": "left", "baseline": "middle", "dx": 7, "dy": 13, "fontSize": 16, "fontWeight": "bold", "color": "#222222"},
   "encoding": {"text": {"field": "s"}}}
]
}
